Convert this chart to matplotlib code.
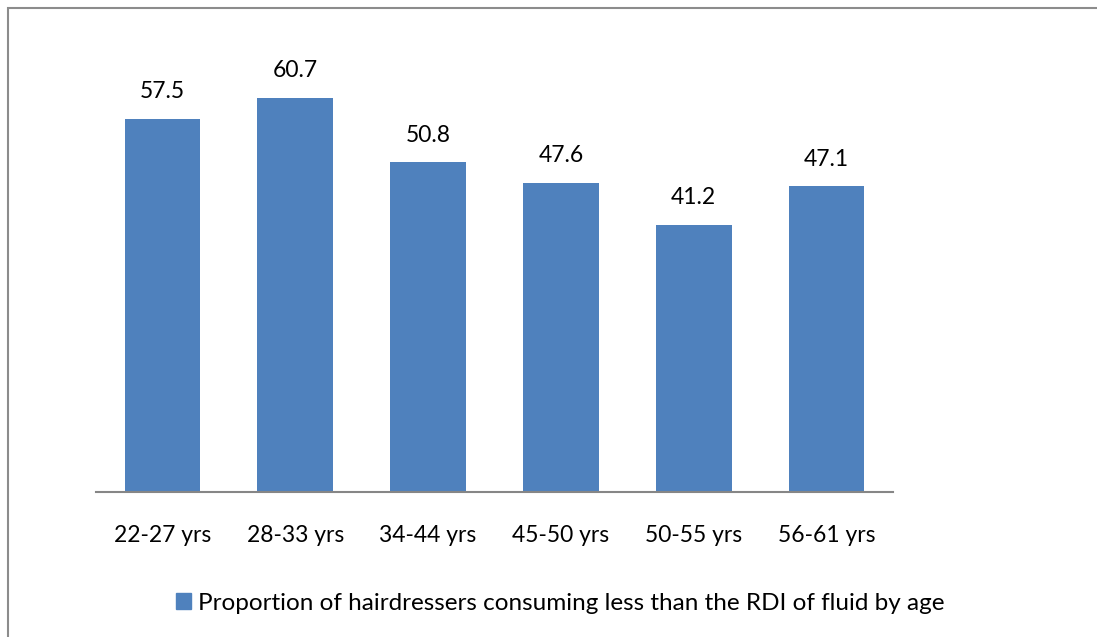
import matplotlib.pyplot as plt
from matplotlib.patches import Rectangle

# data
age_groups = ['22-27 yrs', '28-33 yrs', '34-44 yrs', '45-50 yrs', '50-55 yrs', '56-61 yrs']
proportions = [57.5, 60.7, 50.8, 47.6, 41.2, 47.1]
series_name = 'Proportion of hairdressers consuming less than the RDI of fluid by age'

bar_color = '#4F81BD'
W, H = 1097, 637
fs = 16.5

plt.rcParams['font.family'] = ['Lato', 'DejaVu Sans']

fig = plt.figure(figsize=(W / 100, H / 100), dpi=100)

# axes placed in pixel terms: baseline at y=492, axis from x=96 to x=893
px_per_unit = (492 - 98) / 60.7
y_top = 70
top_px = 492 - y_top * px_per_unit
ax = fig.add_axes([96 / W, (H - 492) / H, (893 - 96) / W, (492 - top_px) / H])

x = range(len(age_groups))
bars = ax.bar(x, proportions, width=0.57, color=bar_color)
ax.set_xlim(-0.5, len(age_groups) - 0.5)
ax.set_ylim(0, y_top)

for rect, v in zip(bars, proportions):
    ax.annotate('{:.1f}'.format(v), (rect.get_x() + rect.get_width() / 2, v),
                xytext=(0, 12), textcoords='offset points', ha='center', va='bottom',
                fontsize=fs, color='black')

for side in ['top', 'right', 'left']:
    ax.spines[side].set_visible(False)
ax.spines['bottom'].set_color('#868686')
ax.spines['bottom'].set_linewidth(1.5)
ax.set_yticks([])
ax.set_xticks(list(x))
ax.set_xticklabels(age_groups, fontsize=fs)
ax.tick_params(axis='x', length=0, pad=24)

# legend
leg = fig.legend([Rectangle((0, 0), 1, 1, color=bar_color)], [series_name],
                 loc='center', bbox_to_anchor=(560 / W, 1 - 603 / H), frameon=False,
                 fontsize=17.5, handlelength=0.62, handleheight=0.62, handletextpad=0.3)

# outer chart border (cropped on the right and bottom)
border = Rectangle((8 / W, -0.1), 1.2, 1 - 8 / H + 0.1, transform=fig.transFigure,
                   fill=False, edgecolor='#8c8c8c', linewidth=1.5)
fig.patches.append(border)

fig.savefig('out.png', dpi=100)
